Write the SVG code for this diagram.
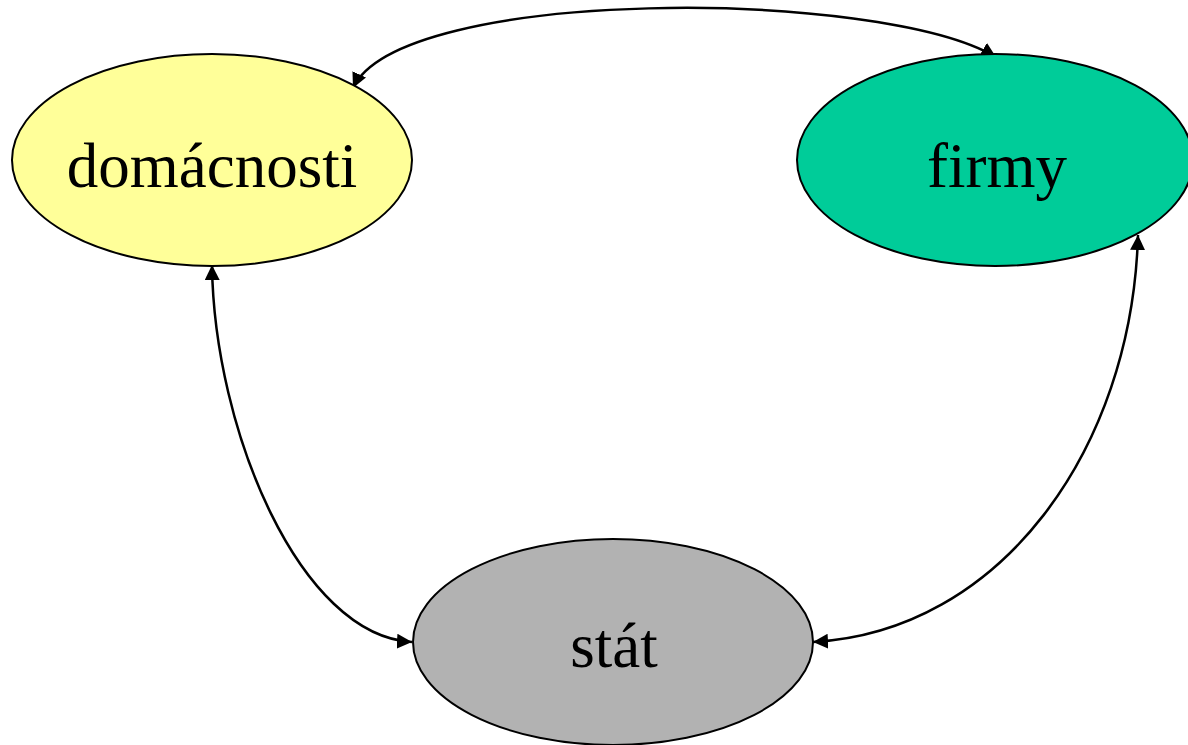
<svg xmlns="http://www.w3.org/2000/svg" width="1188" height="745" viewBox="0 0 1188 745">
<style>
.n{stroke:#000;stroke-width:2}
.t{font-family:"Liberation Serif","Times New Roman",serif;font-size:63px;fill:#000;text-anchor:middle}
.c{fill:none;stroke:#000;stroke-width:2.5}
</style>
<defs>
<marker id="a" viewBox="0 0 10 10" refX="10" refY="5" markerWidth="6" markerHeight="6" orient="auto-start-reverse" markerUnits="strokeWidth">
<path d="M0,0 L10,5 L0,10 z" fill="#000"/>
</marker>
</defs>
<rect width="1188" height="745" fill="#fff"/>
<g id="connectors">
<path class="c" d="M353,88 C400,-14 880,-12 996,57" marker-start="url(#a)" marker-end="url(#a)"/>
<path class="c" d="M212,265 C214,430 300,636 412,642" marker-start="url(#a)" marker-end="url(#a)"/>
<path class="c" d="M1138,235 C1132,450 1000,632 813,642" marker-start="url(#a)" marker-end="url(#a)"/>
</g>
<g id="domacnosti">
<ellipse class="n" cx="212" cy="160" rx="200" ry="106" fill="#FFFF99"/>
<text class="t" x="212" y="187">domácnosti</text>
</g>
<g id="firmy">
<ellipse class="n" cx="995" cy="160" rx="198" ry="106" fill="#00CC99"/>
<text class="t" x="997" y="187">firmy</text>
</g>
<g id="stat">
<ellipse class="n" cx="613" cy="642" rx="200" ry="103" fill="#B2B2B2"/>
<text class="t" x="614" y="667">stát</text>
</g>
</svg>
